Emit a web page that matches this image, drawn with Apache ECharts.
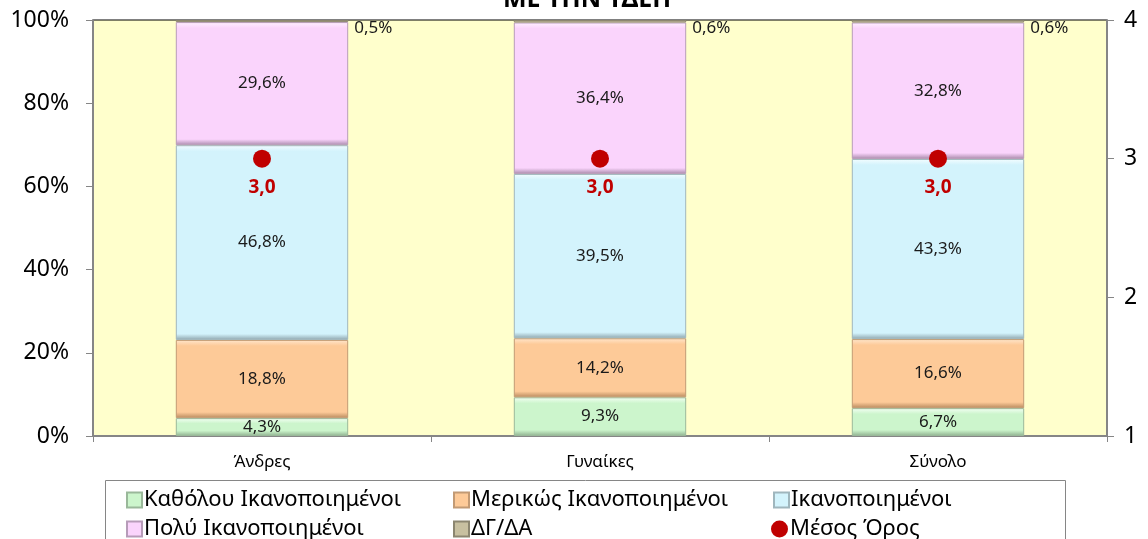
<!DOCTYPE html>
<html>
<head>
<meta charset="utf-8">
<script src="https://cdn.jsdelivr.net/npm/echarts@6/dist/echarts.min.js"></script>
<style>
  html, body { margin: 0; padding: 0; background: #ffffff; }
  #chart { width: 1148px; height: 539px; }
</style>
</head>
<body>
<div id="chart"></div>
<script>
// Satisfaction with the service, by gender (percent shares) and mean score (1-4)
const categories = ['Άνδρες', 'Γυναίκες', 'Σύνολο'];
const notSatisfied = [4.3, 9.3, 6.7];
const partlySatisfied = [18.8, 14.2, 16.6];
const satisfied = [46.8, 39.5, 43.3];
const verySatisfied = [29.6, 36.4, 32.8];
const noAnswer = [0.5, 0.6, 0.6];
const meanScore = [3.0, 3.0, 3.0];
const pctTicks = [0, 20, 40, 60, 80, 100];
const scoreTicks = [1, 2, 3, 4];

const FONT = '"Noto Sans", "Open Sans", sans-serif';
const comma = v => String(v.toFixed(1)).replace('.', ',');

const PLOT_H = 416;   // plot height in px, used for a fixed-size bevel edge
const BEVEL = 6;

// vertical gradient giving a bevelled look: light top edge, dark bottom edge
function bevelFill(v, light, base, dark) {
  const h = Math.max(v / 100 * PLOT_H, 1);
  const f = Math.min(BEVEL / h, 0.3);
  return {
    type: 'linear', x: 0, y: 0, x2: 0, y2: 1,
    colorStops: [
      { offset: 0, color: light },
      { offset: f, color: base },
      { offset: 1 - f, color: base },
      { offset: 1, color: dark }
    ]
  };
}

function barSeries(name, data, light, base, dark, edge, extraLabel) {
  return {
    name: name,
    type: 'bar',
    stack: 'total',
    barWidth: '51%',
    data: data.map(v => ({ value: v, itemStyle: { color: bevelFill(v, light, base, dark) } })),
    itemStyle: { color: base, borderColor: edge, borderWidth: 1 },
    label: Object.assign({
      show: true,
      position: 'inside',
      color: '#1a1a1a',
      fontFamily: FONT,
      fontSize: 17,
      formatter: p => comma(p.value) + '%'
    }, extraLabel || {})
  };
}

function legendAt(name, icon, left, top) {
  return {
    orient: 'horizontal', left: left, top: top, padding: 0,
    itemWidth: icon === 'circle' ? 17 : 15, itemHeight: icon === 'circle' ? 17 : 15,
    itemGap: 0,
    data: [{ name: name, icon: icon }],
    textStyle: { fontFamily: FONT, fontSize: 22, color: '#000', padding: [0, 0, 0, -3] }
  };
}

const chart = echarts.init(document.getElementById('chart'), null, { renderer: 'canvas' });

chart.setOption({
  animation: false,
  backgroundColor: '#ffffff',
  title: {
    text: 'ΜΕ ΤΗΝ ΥΔΕΠ',
    left: 503,
    top: -13,
    padding: 0,
    textStyle: { fontFamily: FONT, fontSize: 25, fontWeight: 'bold', color: '#000' }
  },
  grid: {
    left: 93, right: 41, top: 20, bottom: 103,
    show: true, backgroundColor: '#ffffcc', borderColor: '#000', borderWidth: 1
  },
  legend: [
    legendAt('Καθόλου Ικανοποιημένοι', 'rect', 126, 489),
    legendAt('Μερικώς Ικανοποιημένοι', 'rect', 453, 489),
    legendAt('Ικανοποιημένοι', 'rect', 773, 489),
    legendAt('Πολύ Ικανοποιημένοι', 'rect', 126, 518),
    legendAt('ΔΓ/ΔΑ', 'rect', 453, 518),
    legendAt('Μέσος Όρος', 'circle', 771, 518)
  ],
  graphic: [{
    type: 'rect',
    shape: { x: 105.5, y: 480.5, width: 960, height: 70 },
    style: { fill: 'none', stroke: '#868686', lineWidth: 1 },
    z: 0
  }],
  xAxis: {
    type: 'category',
    data: categories,
    axisLine: { lineStyle: { color: '#868686', width: 2 } },
    axisTick: { show: true, length: 6, lineStyle: { color: '#868686' } },
    axisLabel: { fontFamily: FONT, fontSize: 17, color: '#000', margin: 18 }
  },
  yAxis: [
    {
      type: 'value', min: 0, max: 100, interval: 20,
      axisLine: { show: true, lineStyle: { color: '#868686', width: 2 } },
      axisTick: { show: true, length: 7, lineStyle: { color: '#868686' } },
      splitLine: { show: false },
      axisLabel: {
        fontFamily: FONT, fontSize: 23, color: '#000', margin: 24,
        formatter: v => pctTicks.includes(v) ? v + '%' : ''
      }
    },
    {
      type: 'value', min: 1, max: 4, interval: 1, position: 'right',
      axisLine: { show: true, lineStyle: { color: '#868686', width: 2 } },
      axisTick: { show: true, length: 7, lineStyle: { color: '#868686' } },
      splitLine: { show: false },
      axisLabel: {
        fontFamily: FONT, fontSize: 23, color: '#000', margin: 17,
        formatter: v => scoreTicks.includes(v) ? String(v) : ''
      }
    }
  ],
  series: [
    barSeries('Καθόλου Ικανοποιημένοι', notSatisfied, '#f4fff4', '#ccf5cc', '#8fb08f', '#9ab89a'),
    barSeries('Μερικώς Ικανοποιημένοι', partlySatisfied, '#ffe6cc', '#fdca98', '#b88a5e', '#c29a74'),
    barSeries('Ικανοποιημένοι', satisfied, '#f4fdff', '#d3f3fc', '#8fa6ae', '#9fb6bd'),
    barSeries('Πολύ Ικανοποιημένοι', verySatisfied, '#fff0ff', '#fad4fc', '#a98aab', '#b79cb9'),
    barSeries('ΔΓ/ΔΑ', noAnswer, '#c8c0a0', '#c8c0a0', '#c8c0a0', '#8c8670',
      { position: 'right', distance: 6, offset: [0, 7] }),
    {
      name: 'Μέσος Όρος',
      type: 'scatter',
      yAxisIndex: 1,
      data: meanScore,
      symbol: 'circle',
      symbolSize: 18,
      itemStyle: { color: '#c00000', opacity: 1 },
      z: 5,
      label: {
        show: true,
        position: 'bottom',
        distance: 10,
        color: '#c00000',
        fontFamily: FONT,
        fontSize: 19,
        fontWeight: 'bold',
        formatter: p => comma(p.value)
      }
    }
  ]
});
</script>
</body>
</html>
